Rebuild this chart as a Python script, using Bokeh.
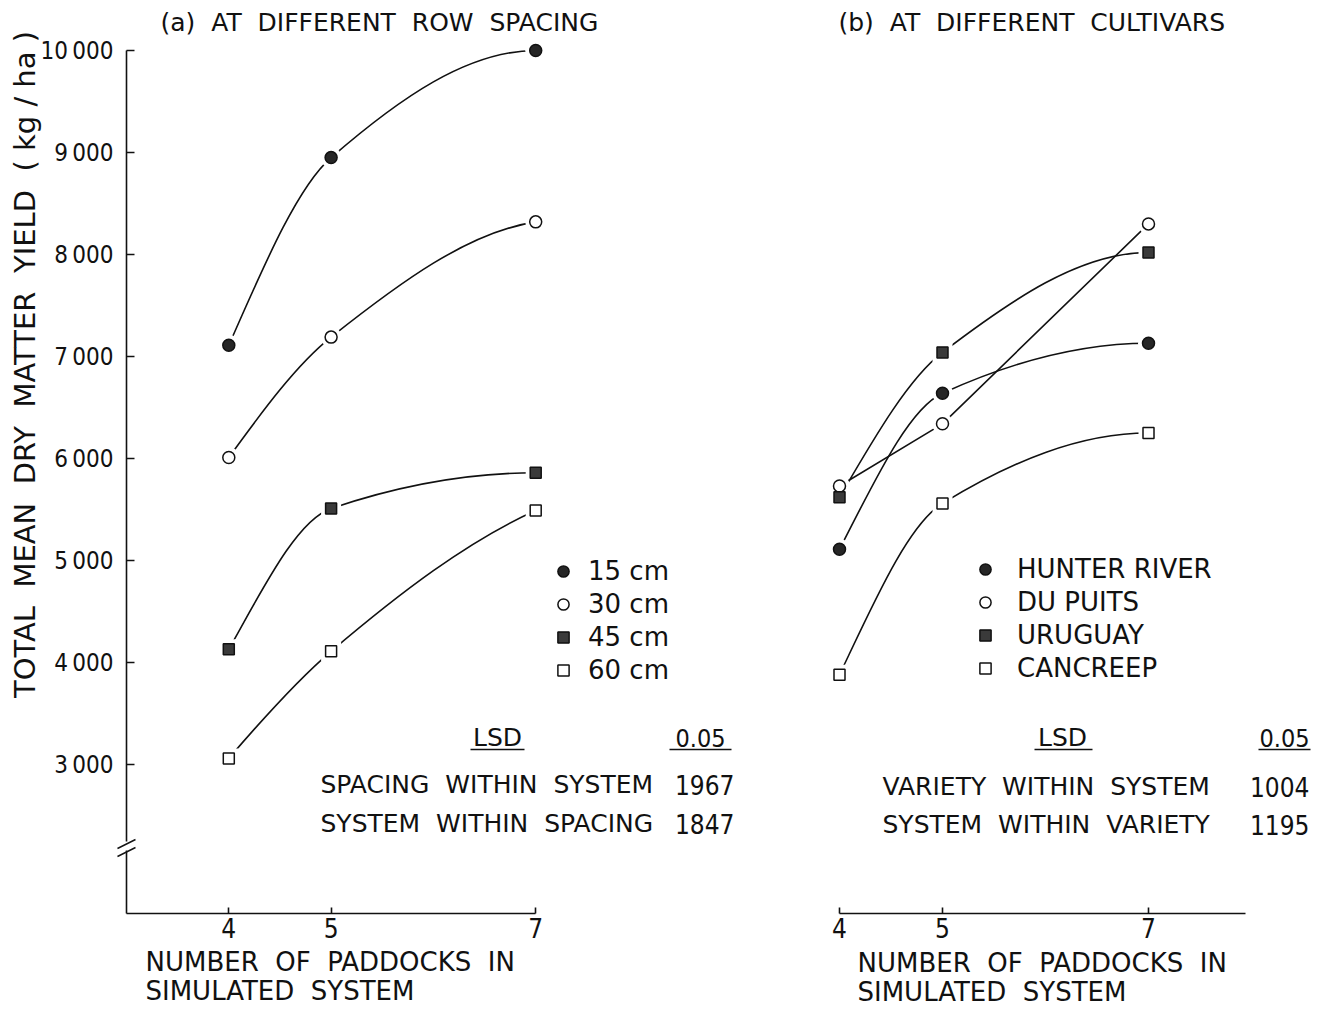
import numpy as np
from bokeh.plotting import figure
from bokeh.models import Label, Arrow, Legend, LegendItem, FixedTicker, Range1d
from bokeh.layouts import row
from bokeh.embed import file_html
from bokeh.resources import INLINE

# ---------------- data ----------------
PADDOCKS = [4, 5, 7]

SPACING_LABELS = ["15 cm", "30 cm", "45 cm", "60 cm"]
YIELD_15CM = [7110, 8950, 10000]
YIELD_30CM = [6010, 7190, 8320]
YIELD_45CM = [4130, 5510, 5860]
YIELD_60CM = [3060, 4110, 5490]

CULTIVAR_LABELS = ["HUNTER RIVER", "DU PUITS", "URUGUAY", "CANCREEP"]
YIELD_HUNTER = [5110, 6640, 7130]
YIELD_DUPUITS = [5730, 6340, 8300]
YIELD_URUGUAY = [5620, 7040, 8020]
YIELD_CANCREEP = [3880, 5560, 6250]

Y_TICKS = [3000, 4000, 5000, 6000, 7000, 8000, 9000, 10000]
Y_TICK_LABELS = ["3\u2009000", "4\u2009000", "5\u2009000", "6\u2009000",
                 "7\u2009000", "8\u2009000", "9\u2009000", "10\u2009000"]
X_TICKS = [4, 5, 7]
X_TICK_LABELS = ["4", "5", "7"]

G = "\u00a0 "   # wide word gap, as in the typeset original
TITLE_A = G.join(["(a)", "AT", "DIFFERENT", "ROW", "SPACING"])
TITLE_B = G.join(["(b)", "AT", "DIFFERENT", "CULTIVARS"])
Y_LABEL = G.join(["TOTAL", "MEAN", "DRY", "MATTER", "YIELD", "( kg / ha )"])
X_LABEL_1 = G.join(["NUMBER", "OF", "PADDOCKS", "IN"])
X_LABEL_2 = G.join(["SIMULATED", "SYSTEM"])
LSD_HEAD = ["LSD", "0.05"]
LSD_A_ROWS = [G.join(["SPACING", "WITHIN", "SYSTEM"]), G.join(["SYSTEM", "WITHIN", "SPACING"])]
LSD_A_VALUES = ["1967", "1847"]
LSD_B_ROWS = [G.join(["VARIETY", "WITHIN", "SYSTEM"]), G.join(["SYSTEM", "WITHIN", "VARIETY"])]
LSD_B_VALUES = ["1004", "1195"]

# ---------------- layout constants ----------------
WORD_FONT = "DejaVu Sans"
NUM_FONT = "'Liberation Sans Narrow', 'DejaVu Sans Condensed', Roboto"
INK = "#111111"

FIG_H = 1009
W1, W2 = 760, 562
AXIS_A_X = 126                # page x of left y-axis
AXIS_Y = 913                  # page y of x-axes
PXU_A = 102.3                 # px per paddock unit (left)
PXU_B = 103.0                 # px per paddock unit (right)
XA0 = 3.0
XB0 = 4 - (839 - W1) / PXU_B


def Y(py):
    return 3000 + (764 - py) * 1000.0 / 102.0


def XA(px):
    return XA0 + (px - AXIS_A_X) / PXU_A


def XB(px):
    return XB0 + (px - W1) / PXU_B


def pchip_slopes(x, y):
    x = np.asarray(x, float)
    y = np.asarray(y, float)
    h = np.diff(x)
    d = np.diff(y) / h
    n = len(x)
    m = np.zeros(n)
    for k in range(1, n - 1):
        if d[k - 1] * d[k] > 0:
            w1 = 2 * h[k] + h[k - 1]
            w2 = h[k] + 2 * h[k - 1]
            m[k] = (w1 + w2) / (w1 / d[k - 1] + w2 / d[k])

    def end(h0, h1, d0, d1):
        s = ((2 * h0 + h1) * d0 - h0 * d1) / (h0 + h1)
        if np.sign(s) != np.sign(d0):
            s = 0.0
        elif np.sign(d0) != np.sign(d1) and abs(s) > 3 * abs(d0):
            s = 3 * d0
        return s

    m[0] = end(h[0], h[1], d[0], d[1])
    m[-1] = end(h[-1], h[-2], d[-1], d[-2])
    return m


def smooth_curve(p, x, y):
    x = np.asarray(x, float)
    y = np.asarray(y, float)
    m = pchip_slopes(x, y)
    h = np.diff(x)
    p.bezier(x0=x[:-1], y0=y[:-1], x1=x[1:], y1=y[1:],
             cx0=x[:-1] + h / 3, cy0=y[:-1] + m[:-1] * h / 3,
             cx1=x[1:] - h / 3, cy1=y[1:] - m[1:] * h / 3,
             line_color=INK, line_width=1.6)


def style_axis(ax, tick_in, size, standoff):
    ax.axis_line_color = INK
    ax.axis_line_width = 1.6
    ax.major_tick_in = tick_in
    ax.major_tick_out = 0
    ax.major_tick_line_color = INK
    ax.major_tick_line_width = 1.6
    ax.minor_tick_line_color = None
    ax.major_label_text_font = NUM_FONT
    ax.major_label_text_font_size = size
    ax.major_label_text_color = INK
    ax.major_label_standoff = standoff


def make_fig(width, x_range, show_y):
    p = figure(width=width, height=FIG_H, x_range=x_range,
               y_range=Range1d(Y(FIG_H), Y(0)), output_backend="svg",
               toolbar_location=None, min_border_left=0, min_border_right=0,
               min_border_top=0, min_border_bottom=0,
               y_axis_location="left" if show_y else None)
    p.outline_line_color = None
    p.grid.grid_line_color = None
    p.background_fill_color = "white"
    p.border_fill_color = "white"
    ax = p.xaxis[0]
    ax.fixed_location = Y(AXIS_Y)
    ax.ticker = FixedTicker(ticks=X_TICKS)
    ax.major_label_overrides = dict(zip(X_TICKS, X_TICK_LABELS))
    style_axis(ax, 6, "26px", 4)
    return p


def text(p, x, y, s, size="24px", align="left", font=WORD_FONT, angle=0.0):
    p.add_layout(Label(x=x, y=y, text=s, text_font=font, text_font_size=size,
                       text_align=align, text_baseline="middle", text_color=INK,
                       angle=angle))


def rule(p, x0, y0, x1, y1, w=1.4):
    p.add_layout(Arrow(x_start=x0, y_start=y0, x_end=x1, y_end=y1, start=None,
                       end=None, line_color=INK, line_width=w))


MARKERS = [
    dict(marker="circle", size=12, fill_color="#262626"),
    dict(marker="circle", size=12, fill_color="white"),
    dict(marker="square", size=11, fill_color="#3a3a3a"),
    dict(marker="square", size=11, fill_color="white"),
]


def draw_series(p, series, labels, straight):
    for ys, st in zip(series, straight):
        if st:
            p.line(PADDOCKS, ys, line_color=INK, line_width=1.6)
        else:
            smooth_curve(p, PADDOCKS, ys)
    for ys, mk in zip(series, MARKERS):
        p.scatter(PADDOCKS, ys, marker=mk["marker"], size=mk["size"] + 9,
                  fill_color="white", line_color=None)
    items = []
    for ys, mk, lab in zip(series, MARKERS, labels):
        r = p.scatter(PADDOCKS, ys, marker=mk["marker"], size=mk["size"],
                      fill_color=mk["fill_color"], line_color=INK, line_width=1.5)
        items.append(LegendItem(label=lab, renderers=[r]))
    return items


def add_legend(p, items, x, y, standoff):
    leg = Legend(items=items, location=(x, y), padding=0, margin=0, spacing=3,
                 glyph_width=28, glyph_height=28, label_height=30,
                 label_standoff=standoff, border_line_color=None,
                 background_fill_alpha=0, label_text_font=WORD_FONT,
                 label_text_font_size="26px", label_text_color=INK)
    p.add_layout(leg, "center")


# ---------------- panel (a) ----------------
pa = make_fig(W1, Range1d(XA(0), XA(W1)), True)
pa.xaxis[0].bounds = (XA0, 7)
ya = pa.yaxis[0]
ya.fixed_location = XA0
ya.ticker = FixedTicker(ticks=Y_TICKS)
ya.major_label_overrides = dict(zip(Y_TICKS, Y_TICK_LABELS))
ya.bounds = (Y(841), 10000)
style_axis(ya, 8, "24px", 13)

items_a = draw_series(pa, [YIELD_15CM, YIELD_30CM, YIELD_45CM, YIELD_60CM],
                      SPACING_LABELS, [False, False, False, False])
add_legend(pa, items_a, 549, FIG_H - 685, 11)

# axis break and lower axis piece
rule(pa, XA0, Y(850), XA0, Y(AXIS_Y), 1.6)
rule(pa, XA(117), Y(848), XA(135), Y(839), 1.5)
rule(pa, XA(117), Y(856), XA(135), Y(847), 1.5)

text(pa, XA(160), Y(22), TITLE_A, "25px")
text(pa, XA(24), Y(364), Y_LABEL, "29px", "center", angle=np.pi / 2)
text(pa, XA(145), Y(961), X_LABEL_1, "26px")
text(pa, XA(145), Y(990), X_LABEL_2, "26px")

text(pa, XA(497), Y(737), LSD_HEAD[0], "25px", "center")
rule(pa, XA(470), Y(749), XA(524), Y(749))
text(pa, XA(700), Y(737), LSD_HEAD[1], "25px", "center", NUM_FONT)
rule(pa, XA(669), Y(749), XA(731), Y(749))
for i, (lab, val) in enumerate(zip(LSD_A_ROWS, LSD_A_VALUES)):
    yy = [784, 823][i]
    text(pa, XA(320), Y(yy), lab, "25px")
    text(pa, XA(734), Y(yy), val, "26px", "right", NUM_FONT)

# ---------------- panel (b) ----------------
pb = make_fig(W2, Range1d(XB(W1), XB(W1 + W2)), False)
pb.xaxis[0].bounds = (4, 7.94)

items_b = draw_series(pb, [YIELD_HUNTER, YIELD_DUPUITS, YIELD_URUGUAY, YIELD_CANCREEP],
                      CULTIVAR_LABELS, [False, True, False, False])
add_legend(pb, items_b, 971 - W1, FIG_H - 683, 18)

text(pb, XB(838), Y(22), TITLE_B, "25px")
text(pb, XB(857), Y(962), X_LABEL_1, "26px")
text(pb, XB(857), Y(991), X_LABEL_2, "26px")

text(pb, XB(1062), Y(737), LSD_HEAD[0], "25px", "center")
rule(pb, XB(1034), Y(749), XB(1092), Y(749))
text(pb, XB(1284), Y(737), LSD_HEAD[1], "25px", "center", NUM_FONT)
rule(pb, XB(1258), Y(749), XB(1310), Y(749))
for i, (lab, val) in enumerate(zip(LSD_B_ROWS, LSD_B_VALUES)):
    yy = [786, 824][i]
    text(pb, XB(882), Y(yy), lab, "25px")
    text(pb, XB(1309), Y(yy), val, "26px", "right", NUM_FONT)

layout = row(pa, pb)
open("out.html", "w").write(file_html(layout, INLINE))
